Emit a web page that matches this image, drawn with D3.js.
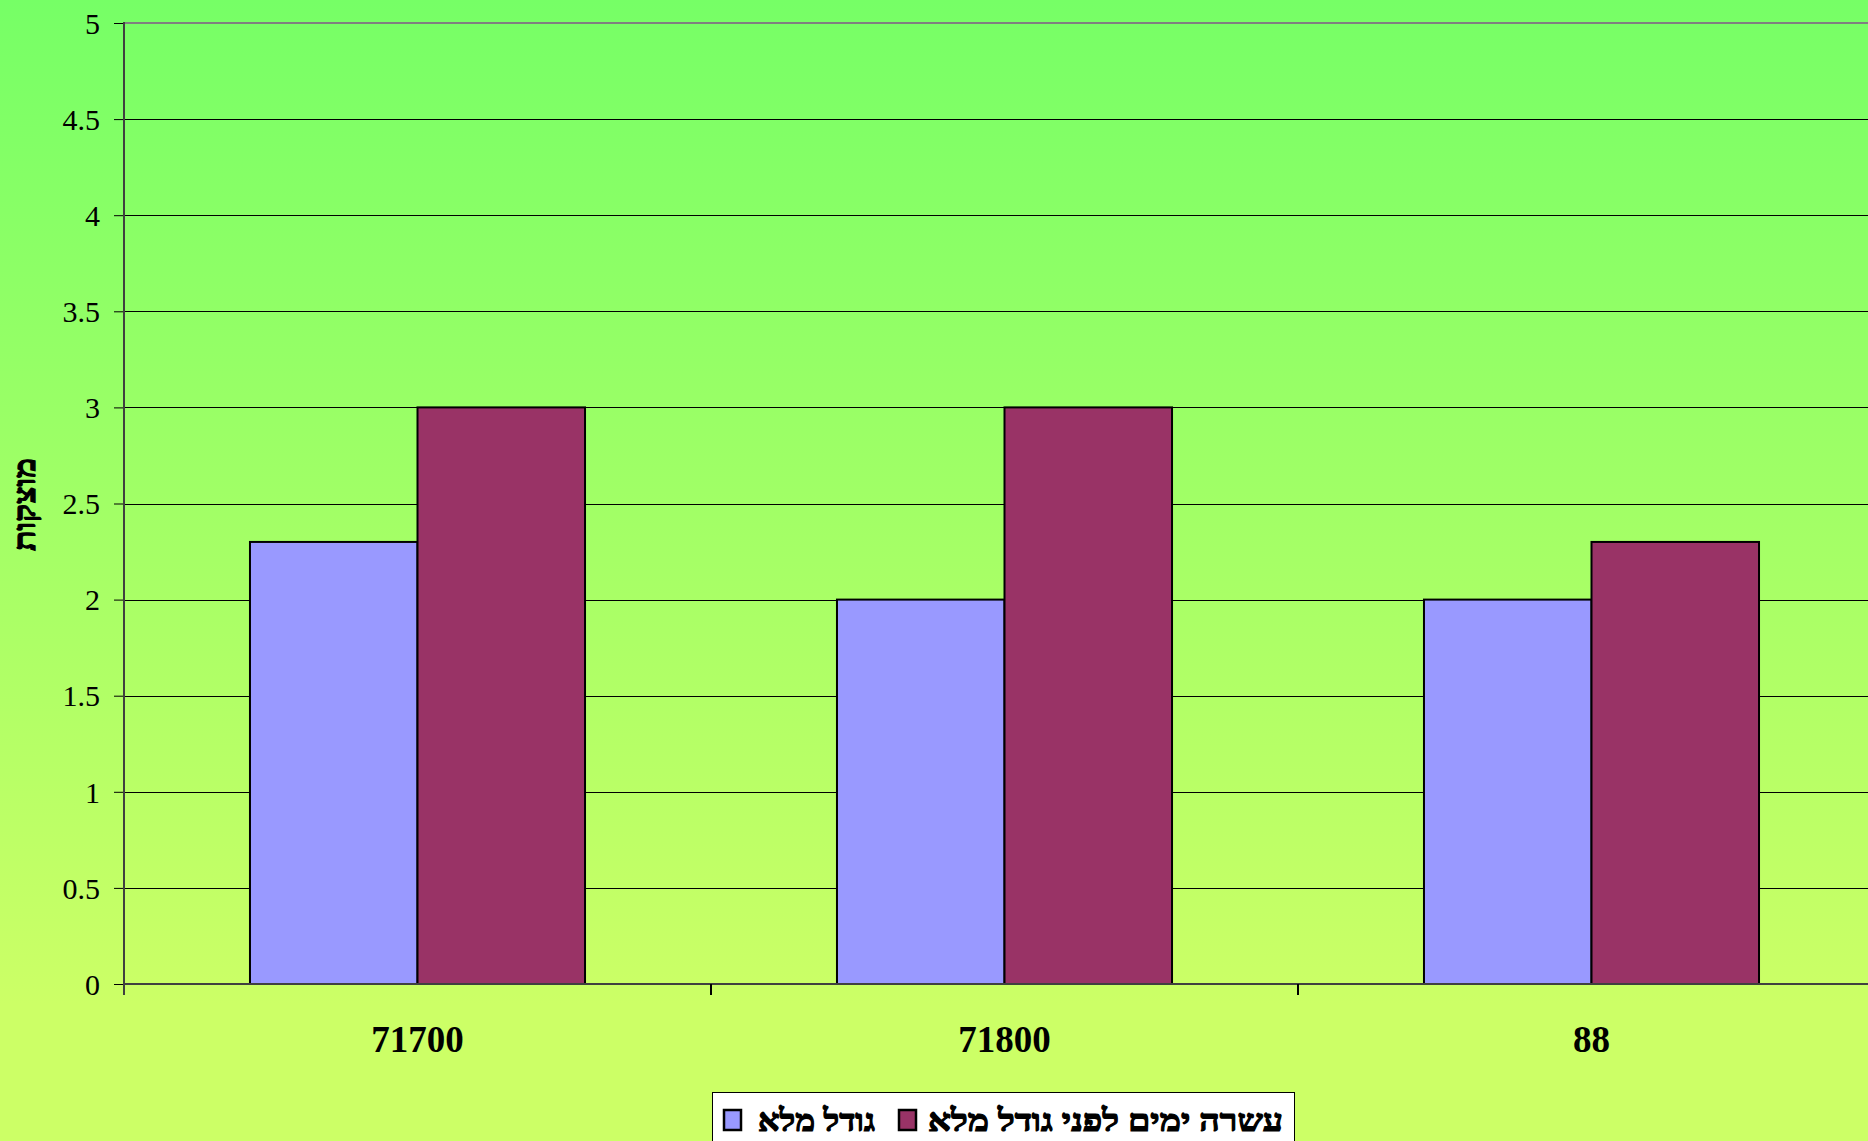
<!DOCTYPE html>
<html>
<head>
<meta charset="utf-8">
<script src="https://cdn.jsdelivr.net/npm/d3@7"></script>
<style>
html,body{margin:0;padding:0;overflow:hidden;}
svg{display:block;}
</style>
</head>
<body>
<script>
const categories = ["71700", "71800", "88"];
const seriesNames = ["גודל מלא", "עשרה ימים לפני גודל מלא"];
const seriesFull = [2.3, 2.0, 2.0];
const seriesTenDays = [3.0, 3.0, 2.3];
const yTicks = [0, 0.5, 1, 1.5, 2, 2.5, 3, 3.5, 4, 4.5, 5];
const yTitle = "מוצקות";
const colors = ["#9999FF", "#993366"];

(function () {
const W = 1868, H = 1141;
const serif = "'Liberation Serif', 'Times New Roman', serif";
const hebFont = "'Liberation Serif', 'Times New Roman', serif";
const svg = d3.select("body").append("svg").attr("width", W).attr("height", H);
const defs = svg.append("defs");
const grad = defs.append("linearGradient").attr("id", "bg").attr("x1", 0).attr("y1", 0).attr("x2", 0).attr("y2", 1);
grad.append("stop").attr("offset", "0%").attr("stop-color", "#76FF66");
grad.append("stop").attr("offset", "88%").attr("stop-color", "#CCFF66");
grad.append("stop").attr("offset", "100%").attr("stop-color", "#CCFF66");
svg.append("rect").attr("width", W).attr("height", H).attr("fill", "url(#bg)");

const mLeft = 124, mRight = 1885, mTop = 23, mBottom = 984;
const y = d3.scaleLinear().domain([0, 5]).range([mBottom, mTop]);
const x0 = d3.scaleBand().domain(categories).range([mLeft, mRight]).padding(0);
const x1 = d3.scaleBand().domain([0, 1]).range([0, x0.bandwidth()]).paddingInner(0).paddingOuter(0.752);

// gridlines
svg.append("g").selectAll("line").data(yTicks.filter(d => d > 0 && d < 5)).join("line")
  .attr("x1", mLeft).attr("x2", W).attr("y1", d => Math.round(y(d)) + 0.5).attr("y2", d => Math.round(y(d)) + 0.5)
  .attr("stroke", "#000").attr("stroke-width", 1);
// top border
svg.append("line").attr("x1", mLeft).attr("x2", W).attr("y1", mTop).attr("y2", mTop)
  .attr("stroke", "#808080").attr("stroke-width", 2);

// bars
const data = categories.map((c, i) => ({c, vals: [seriesFull[i], seriesTenDays[i]]}));
const groups = svg.append("g").selectAll("g").data(data).join("g")
  .attr("transform", d => `translate(${x0(d.c)},0)`);
groups.selectAll("rect").data(d => d.vals.map((v, j) => ({v, j}))).join("rect")
  .attr("x", d => x1(d.j)).attr("width", x1.bandwidth())
  .attr("y", d => y(d.v)).attr("height", d => y(0) - y(d.v))
  .attr("fill", d => colors[d.j]).attr("stroke", "#000").attr("stroke-width", 2);

// y axis
const yAxis = d3.axisLeft(y).tickValues(yTicks).tickSize(10).tickPadding(14).tickFormat(d3.format("~g"));
const gy = svg.append("g").attr("transform", `translate(${mLeft},0)`).call(yAxis);
gy.select(".domain").remove();
gy.selectAll(".tick line").attr("stroke", "#000");
gy.selectAll(".tick text").attr("font-family", serif)
  .attr("font-size", 30).attr("fill", "#000").attr("dy", "0.34em");
svg.append("line").attr("x1", mLeft).attr("x2", mLeft).attr("y1", mTop - 1).attr("y2", mBottom + 11)
  .attr("stroke", "#404040").attr("stroke-width", 2);

// x axis
svg.append("line").attr("x1", mLeft).attr("x2", W).attr("y1", mBottom).attr("y2", mBottom)
  .attr("stroke", "#404040").attr("stroke-width", 2);
svg.append("g").selectAll("line").data(categories.slice(1)).join("line")
  .attr("x1", d => x0(d)).attr("x2", d => x0(d)).attr("y1", mBottom).attr("y2", mBottom + 11)
  .attr("stroke", "#000").attr("stroke-width", 2);
svg.append("g").selectAll("text").data(categories).join("text")
  .attr("x", d => x0(d) + x0.bandwidth() / 2).attr("y", 1052)
  .attr("text-anchor", "middle").attr("font-family", serif)
  .attr("font-weight", "bold").attr("font-size", 37).text(d => d);

// y title
svg.append("text").attr("transform", "translate(35,504.5) rotate(-90)")
  .attr("text-anchor", "middle").attr("font-family", hebFont)
  .attr("font-weight", "bold").attr("font-size", 30)
  .attr("stroke", "#000").attr("stroke-width", 1.2)
  .attr("textLength", 93).attr("lengthAdjust", "spacingAndGlyphs").text(yTitle);

// legend
const lg = svg.append("g");
lg.append("rect").attr("x", 712.5).attr("y", 1092.5).attr("width", 582).attr("height", 70)
  .attr("fill", "#fff").attr("stroke", "#000").attr("stroke-width", 1);
const legendItems = [
  {name: seriesNames[0], color: colors[0], sx: 724, tx: 758, tw: 117},
  {name: seriesNames[1], color: colors[1], sx: 899, tx: 928, tw: 355}
];
legendItems.forEach(it => {
  lg.append("rect").attr("x", it.sx).attr("y", 1110).attr("width", 17).attr("height", 20)
    .attr("fill", it.color).attr("stroke", "#000").attr("stroke-width", 2.5);
  lg.append("text").attr("x", it.tx + it.tw / 2).attr("y", 1131).attr("text-anchor", "middle")
    .attr("font-family", hebFont)
    .attr("font-weight", "bold").attr("font-size", 31)
    .attr("stroke", "#000").attr("stroke-width", 1.2)
    .attr("textLength", it.tw).attr("lengthAdjust", "spacingAndGlyphs").text(it.name);
});
})();
</script>
</body>
</html>
